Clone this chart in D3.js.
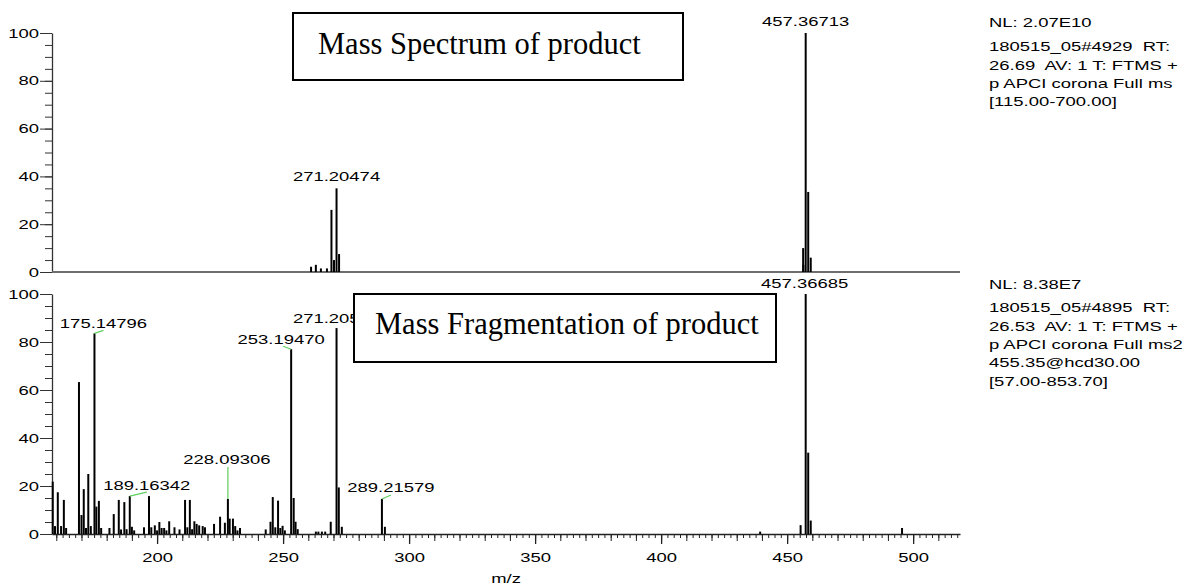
<!DOCTYPE html>
<html>
<head>
<meta charset="utf-8">
<script src="https://cdn.jsdelivr.net/npm/d3@7"></script>
<style>
  body { margin: 0; background: #fff; }
  text { font-family: "Liberation Sans", Arial, sans-serif; fill: #000; }
  .serif { font-family: "Liberation Serif", "Times New Roman", serif; }
</style>
</head>
<body>
<div id="chart"></div>
<script>
// ---- data ----
// upper spectrum: Full ms of product
let topMz  = [261.1, 263.0, 265.0, 267.4, 269.19, 270.2, 271.205, 272.21, 456.36, 456.45, 457.367, 458.37, 459.37];
let topInt = [2.2,   3.0,   1.5,   1.5,   26,     5,     35,      7.5,    10,     3,      100,     33.5,   6];

// lower spectrum: ms2 fragmentation (centroid sticks)
let botMz = [158.6, 159.5, 160.6, 161.9, 163.0, 163.9, 169.0, 170.0, 170.9, 171.8,
             172.7, 173.7, 175.148, 175.9, 176.9, 177.8, 181.1, 182.8, 184.8, 185.7,
             187.0, 187.9, 189.163, 190.0, 190.9, 194.8, 196.8, 197.7, 199.1, 200.0,
             200.9, 201.8, 202.8, 203.7, 204.8, 206.9, 208.9, 211.1, 212.0, 213.0,
             213.9, 214.8, 215.7, 216.7, 218.1, 219.0, 222.6, 225.0, 226.9, 228.093,
             228.8, 230.1, 231.0, 231.9, 232.9, 243.1, 245.0, 245.9, 246.9, 248.0,
             248.9, 249.8, 250.7, 253.195, 254.2, 254.95, 255.8, 263.0, 264.0, 265.4,
             266.7, 268.9, 271.205, 272.1, 273.3, 289.216, 290.4, 439.3, 455.35, 457.367,
             458.37, 459.37, 495.6];
let botInt = [21.8, 3.3, 17.4, 3.3, 14.2, 2.5, 63.3, 7.9, 18.7, 2.5,
              25, 3.3, 83.6, 11.4, 13.8, 2.5, 2.5, 8.3, 14.2, 1.9,
              13.3, 2, 15.8, 3, 1.5, 2.8, 15.8, 2.8, 3.6, 1.5,
              5, 2.5, 2.5, 1.5, 5.3, 2.8, 1.9, 14.2, 2.8, 14.2,
              2, 5.3, 4.2, 3.6, 3.3, 2.8, 4.2, 7.2, 4.7, 14.6,
              6.4, 6.4, 3.3, 1.5, 2.5, 1.9, 5.1, 15.4, 2.8, 13.9,
              2.5, 3.4, 1.5, 77, 15, 5.1, 2, 1, 1, 1,
              1, 5.1, 85.8, 19.4, 3, 14.6, 3, 1, 3.7, 100,
              33.9, 5.6, 2.5];

// labelled peaks
let topLabelMz   = [271.205, 457.367];
let topLabelText = ["271.20474", "457.36713"];
let botLabelMz   = [175.148, 189.163, 228.093, 253.195, 271.205, 289.216, 457.367];
let botLabelText = ["175.14796", "189.16342", "228.09306", "253.19470", "271.20531", "289.21579", "457.36685"];

let yTicks = [0, 20, 40, 60, 80, 100];
let xTicks = [200, 250, 300, 350, 400, 450, 500];

let topInfo = ["NL: 2.07E10", "180515_05#4929  RT:", "26.69  AV: 1 T: FTMS +", "p APCI corona Full ms", "[115.00-700.00]"];
let botInfo = ["NL: 8.38E7", "180515_05#4895  RT:", "26.53  AV: 1 T: FTMS +", "p APCI corona Full ms2", "455.35@hcd30.00", "[57.00-853.70]"];

// ---- layout ----
let width = 1198, height = 585;
let left = 52, right = 960;
let sx = 1.42; // the original picture is stretched sideways

let svg = d3.select("#chart").append("svg")
  .attr("width", width)
  .attr("height", height);

let x = d3.scaleLinear().domain([158.3, 518.6]).range([left, right]);
let yTop = d3.scaleLinear().domain([0, 100]).range([272, 33]);
let yBot = d3.scaleLinear().domain([0, 100]).range([534, 294]);

function stretchText(g, px, py, str, anchor) {
  return g.append("text")
    .attr("transform", "translate(" + px + "," + py + ") scale(" + sx + ",1)")
    .attr("text-anchor", anchor || "middle")
    .style("font-size", "13px")
    .style("white-space", "pre")
    .text(str);
}

function drawYAxis(y) {
  let minor = svg.append("g")
    .attr("transform", "translate(" + left + ",0)")
    .call(d3.axisLeft(y).tickValues(d3.range(0, 101, 5)).tickSize(7).tickFormat(""));
  minor.select(".domain").remove();
  minor.selectAll("line").attr("stroke", "#333");

  let major = svg.append("g")
    .attr("transform", "translate(" + left + ",0)")
    .call(d3.axisLeft(y).tickValues(yTicks).tickSize(12).tickPadding(1).tickSizeOuter(0));
  major.select(".domain").attr("stroke", "#333").attr("stroke-width", 1.3);
  major.selectAll("line").attr("stroke", "#333");
  major.selectAll("text")
    .attr("x", -13 / sx)
    .attr("transform", "scale(" + sx + ",1)")
    .style("font-size", "13px")
    .style("font-family", "Liberation Sans, Arial, sans-serif");
}

function drawPeaks(mz, inten, y, w) {
  svg.append("g").selectAll("line")
    .data(mz)
    .enter()
    .append("line")
    .attr("x1", function(d) { return x(d); })
    .attr("x2", function(d) { return x(d); })
    .attr("y1", y(0))
    .attr("y2", function(d, i) { return y(inten[i]); })
    .attr("stroke", "#000")
    .attr("stroke-width", w);
}

// ---- upper panel ----
drawYAxis(yTop);
svg.append("line")
  .attr("x1", left).attr("x2", right)
  .attr("y1", yTop(0)).attr("y2", yTop(0))
  .attr("stroke", "#6e6e6e")
  .attr("stroke-width", 2);
drawPeaks(topMz, topInt, yTop, 2);

topLabelMz.forEach(function(m, i) {
  let v = topInt[topMz.indexOf(m)];
  stretchText(svg, x(m), yTop(v) - 7, topLabelText[i]);
});

// ---- lower panel ----
drawYAxis(yBot);

let xMinor = svg.append("g")
  .attr("transform", "translate(0," + yBot(0) + ")")
  .call(d3.axisBottom(x).tickValues(d3.range(160, 518, 2.5)).tickSize(4).tickFormat(""));
xMinor.select(".domain").remove();
xMinor.selectAll("line").attr("stroke", "#222");

let xMid = svg.append("g")
  .attr("transform", "translate(0," + yBot(0) + ")")
  .call(d3.axisBottom(x).tickValues(d3.range(160, 518, 10)).tickSize(7).tickFormat(""));
xMid.select(".domain").remove();
xMid.selectAll("line").attr("stroke", "#222");

let xAxis = svg.append("g")
  .attr("transform", "translate(0," + yBot(0) + ")")
  .call(d3.axisBottom(x).tickValues(xTicks).tickSize(10).tickSizeOuter(0));
xAxis.select(".domain").attr("stroke", "#222").attr("stroke-width", 1.5);
xAxis.selectAll("line").attr("stroke", "#222").attr("stroke-width", 1.3);
xAxis.selectAll("text")
  .attr("y", 19)
  .attr("transform", "scale(" + sx + ",1)")
  .style("font-size", "13px")
  .style("font-family", "Liberation Sans, Arial, sans-serif");

stretchText(svg, (left + right) / 2, 583, "m/z");

drawPeaks(botMz, botInt, yBot, 2);

// label offsets from the peak top: [label dx, label dy, leader dx, leader dy]
let botLabelPos = [
  [9, -5, 9, -3],
  [17, -6.5, 17, -4],
  [-1, -34.5, 0, -32],
  [-10, -5, -8, -3],
  [0, -5, null, null],
  [9, -6.5, 9, -4],
  [-1, -6, null, null]
];

botLabelMz.forEach(function(m, i) {
  let px = x(m), py = yBot(botInt[botMz.indexOf(m)]);
  let p = botLabelPos[i];
  if (p[2] !== null) {
    svg.append("line")
      .attr("x1", px).attr("y1", py)
      .attr("x2", px + p[2]).attr("y2", py + p[3])
      .attr("stroke", "#5fcf5f")
      .attr("stroke-width", 1.2);
  }
  stretchText(svg, px + p[0], py + p[1], botLabelText[i]);
});

// ---- title boxes ----
function titleBox(bx, by, bw, bh, tx, ty, str) {
  svg.append("rect")
    .attr("x", bx).attr("y", by)
    .attr("width", bw).attr("height", bh)
    .attr("fill", "#fff")
    .attr("stroke", "#000")
    .attr("stroke-width", 2);
  svg.append("text")
    .attr("class", "serif")
    .attr("x", tx).attr("y", ty)
    .style("font-size", "30.5px")
    .text(str);
}
titleBox(293, 13, 390, 67, 318, 54, "Mass Spectrum of product");
titleBox(354, 294, 422, 68, 375, 334, "Mass Fragmentation of product");

// ---- scan header text ----
let infoX = 989;
topInfo.forEach(function(s, i) {
  stretchText(svg, infoX, i === 0 ? 26.5 : 33 + i * 18.3, s, "start");
});
botInfo.forEach(function(s, i) {
  stretchText(svg, infoX, i === 0 ? 288.5 : 294 + i * 18.3, s, "start");
});
</script>
</body>
</html>
